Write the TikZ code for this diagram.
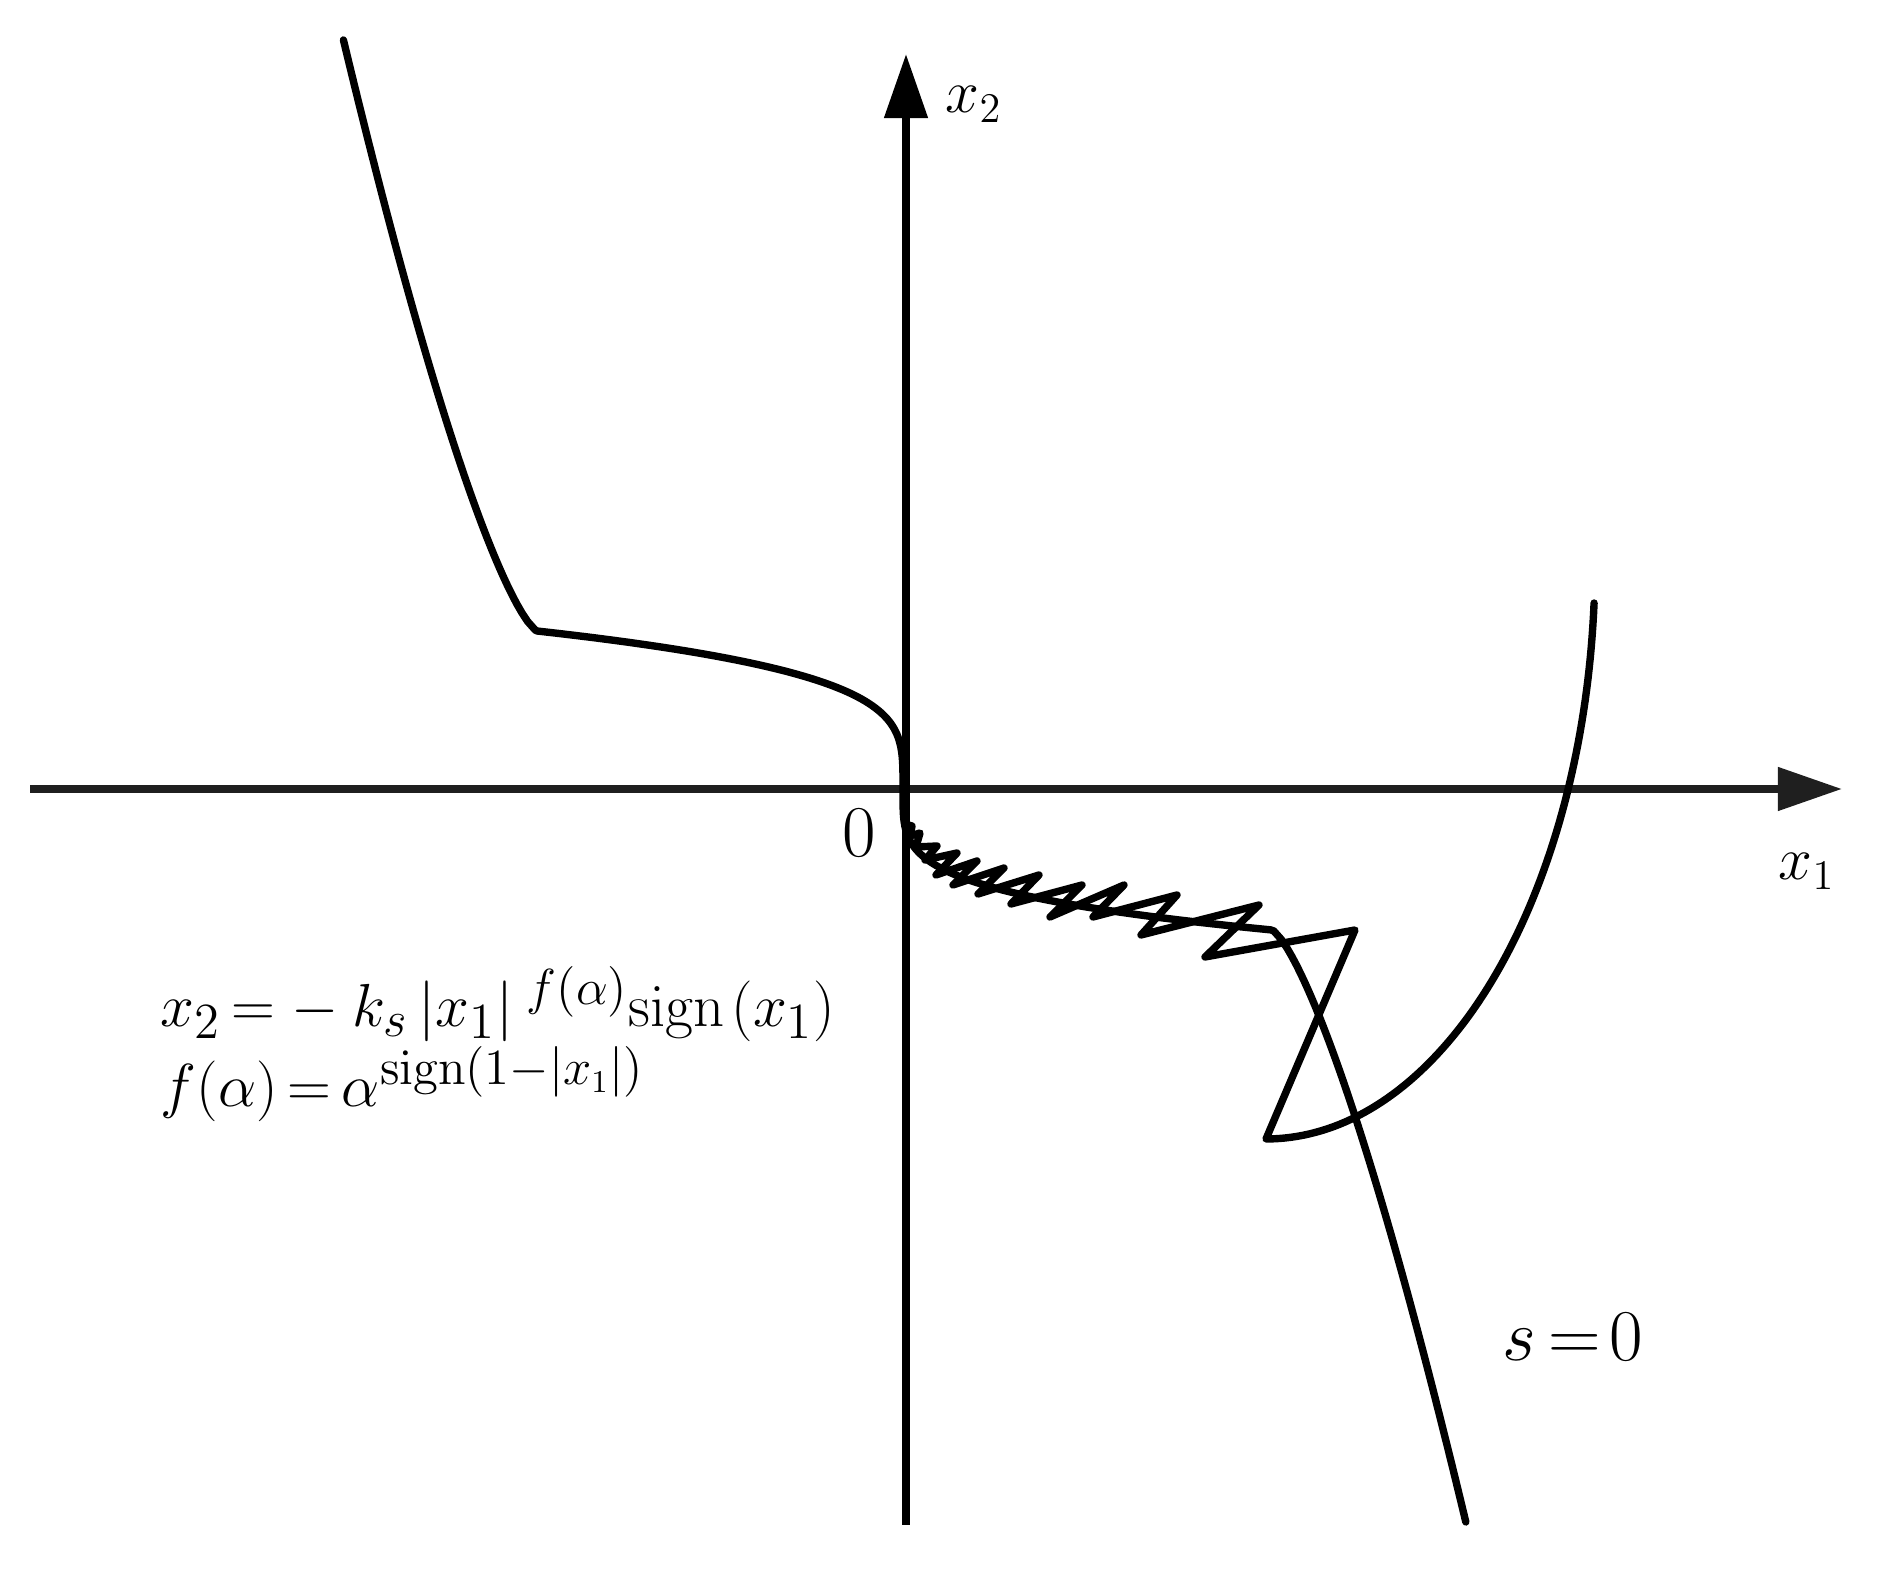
\documentclass[tikz,border=0pt]{standalone}
\usetikzlibrary{arrows.meta}
\begin{document}
\begin{tikzpicture}[x=0.01cm,y=-0.01cm,
  axis/.style={line width=2.2pt,-{Triangle[length=0.64cm,width=0.42cm]}},
  curve/.style={line width=2.1pt,line join=round,line cap=round},
  lab/.style={inner sep=0pt,anchor=base west,font=\fontsize{20}{24}\selectfont},
  axlab/.style={inner sep=0pt,anchor=base west,font=\fontsize{18}{22}\selectfont},
  formula/.style={inner sep=0pt,anchor=base west,font=\fontsize{19}{23}\selectfont}]
\useasboundingbox[fill=white] (0,0) rectangle (1890,1580);
% axes
\coordinate (xs) at (30,789);
\coordinate (xe) at (1842,789);
\coordinate (ys) at (906,1525);
\coordinate (ye) at (906,54);
\draw[axis,color=black!88] (xs) -- (xe);
\draw[axis] (ys) -- (ye);
% sliding surface s=0
\draw[curve] plot[domain=591:1,samples=70] ({537-1.8*pow(\x,0.733)},{631-\x})
  -- (537,631)
  -- plot[domain=1:0.02,samples=70] ({903-366*pow(\x,3.9)},{790-159*\x})
  -- (903,790)
  -- plot[domain=0.02:1,samples=70] ({903+369*pow(\x,3.9)},{790+140*\x})
  -- plot[domain=1:592,samples=70] ({1272+1.8*pow(\x,0.733)},{930+\x});
% trajectory with chattering
\draw[curve] plot[domain=4.26:90,samples=80] ({1266+329*cos(\x)},{560+579*sin(\x)})
  -- (1355,930) -- (1205,957) -- (1259,905) -- (1141,935) -- (1177,895)
  -- (1093,917) -- (1124,885) -- (1050,917) -- (1082,885) -- (1011,904)
  -- (1039,875) -- (978,894) -- (1004,868) -- (953,885) -- (977,861)
  -- (936,875) -- (957,853) -- (925,860) -- (937,846) -- (916,847)
  -- (920,833) -- (910,836) -- (912,826) -- (905,824);
% labels
\node[axlab] (lx2) at (945,113) {$x_2$};
\node[axlab] (lx1) at (1778,880) {$x_1$};
\node[lab] (l0) at (842,857) {$0$};
\node[lab] (ls) at (1502,1361) {$s\mskip3mu{=}\mskip2mu0$};
\node[formula] (f1) at (160,1027) {$x_2\mskip3mu{=}\mskip5mu{-}\mskip4mu k_s\mskip3mu|x_1|^{\kern4pt f(\alpha)}\mathrm{sign}\mskip2mu(x_1)$};
\node[formula] (f2) at (160,1107) {$f(\alpha)\mskip3mu{=}\mskip3mu\alpha^{\mathrm{sign}(1-|x_1|)}$};
\end{tikzpicture}
\end{document}
